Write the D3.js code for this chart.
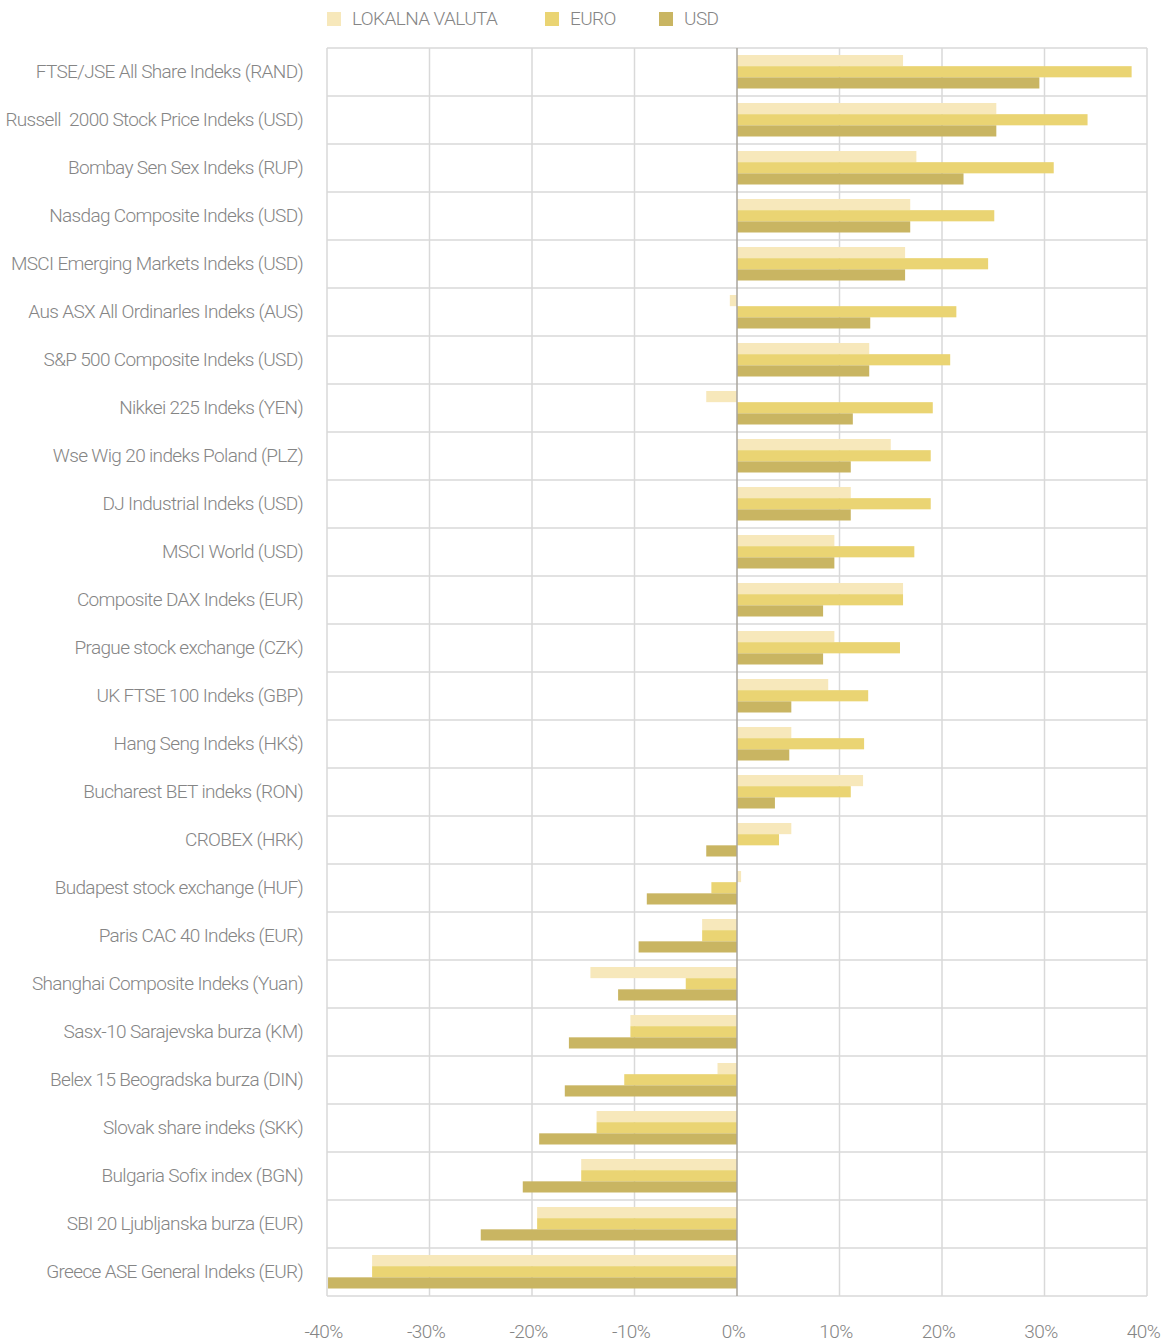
<!DOCTYPE html>
<meta charset="utf-8">
<script src="https://d3js.org/d3.v7.min.js"></script>
<style>
  body { margin: 0; background: #fff; }
  text { font-family: Roboto, "DejaVu Sans", sans-serif; font-weight: 300; fill: #858585; white-space: pre; }
</style>
<div id="chart"></div>
<script>

// categories, top to bottom
const categories = [
  "FTSE/JSE All Share Indeks (RAND)",
  "Russell  2000 Stock Price Indeks (USD)",
  "Bombay Sen Sex Indeks (RUP)",
  "Nasdag Composite Indeks (USD)",
  "MSCI Emerging Markets Indeks (USD)",
  "Aus ASX All Ordinarles Indeks (AUS)",
  "S&P 500 Composite Indeks (USD)",
  "Nikkei 225 Indeks (YEN)",
  "Wse Wig 20 indeks Poland (PLZ)",
  "DJ Industrial Indeks (USD)",
  "MSCI World (USD)",
  "Composite DAX Indeks (EUR)",
  "Prague stock exchange (CZK)",
  "UK FTSE 100 Indeks (GBP)",
  "Hang Seng Indeks (HK$)",
  "Bucharest BET indeks (RON)",
  "CROBEX (HRK)",
  "Budapest stock exchange (HUF)",
  "Paris CAC 40 Indeks (EUR)",
  "Shanghai Composite Indeks (Yuan)",
  "Sasx-10 Sarajevska burza (KM)",
  "Belex 15 Beogradska burza (DIN)",
  "Slovak share indeks (SKK)",
  "Bulgaria Sofix index (BGN)",
  "SBI 20 Ljubljanska burza (EUR)",
  "Greece ASE General Indeks (EUR)"
];

// returns in %
const lokalna = [16.2, 25.3, 17.5, 16.9, 16.4, -0.7, 12.9, -3.0, 15.0, 11.1, 9.5, 16.2, 9.5, 8.9, 5.3, 12.3,
                 5.3, 0.4, -3.4, -14.3, -10.4, -1.9, -13.7, -15.2, -19.5, -35.6];
const euro    = [38.5, 34.2, 30.9, 25.1, 24.5, 21.4, 20.8, 19.1, 18.9, 18.9, 17.3, 16.2, 15.9, 12.8, 12.4, 11.1,
                 4.1, -2.5, -3.4, -5.0, -10.4, -11.0, -13.7, -15.2, -19.5, -35.6];
const usd     = [29.5, 25.3, 22.1, 16.9, 16.4, 13.0, 12.9, 11.3, 11.1, 11.1, 9.5, 8.4, 8.4, 5.3, 5.1, 3.7,
                 -3.0, -8.8, -9.6, -11.6, -16.4, -16.8, -19.3, -20.9, -25.0, -39.9];

const seriesNames = ["LOKALNA VALUTA", "EURO", "USD"];
const seriesColors = ["#f7e8bb", "#ead473", "#c9b562"];
const tickValues = [-40, -30, -20, -10, 0, 10, 20, 30, 40];

const W = 1164, H = 1344;
const plot = {left: 327, right: 1147, top: 48, bottom: 1296};

const svg = d3.select("#chart").append("svg")
    .attr("width", W)
    .attr("height", H);

const x = d3.scaleLinear().domain([-40, 40]).range([plot.left, plot.right]);
const y = d3.scaleBand().domain(categories).range([plot.top, plot.bottom]);
const sub = d3.scaleBand().domain(seriesNames).range([7, 40.5]);

// grid
const grid = svg.append("g").attr("stroke", "#d9d9d9").attr("stroke-width", 1.5);
grid.selectAll("line.v")
  .data(tickValues.filter(d => d !== 0))
  .join("line")
    .attr("x1", d => x(d)).attr("x2", d => x(d))
    .attr("y1", plot.top).attr("y2", plot.bottom);
grid.selectAll("line.h")
  .data(categories.map(c => y(c)).concat([plot.bottom]))
  .join("line")
    .attr("x1", plot.left).attr("x2", plot.right)
    .attr("y1", d => d).attr("y2", d => d);

// bars
const rows = categories.map((c, i) => ({cat: c, vals: [lokalna[i], euro[i], usd[i]]}));
const g = svg.append("g");
g.selectAll("g")
  .data(rows)
  .join("g")
    .attr("transform", d => `translate(0,${y(d.cat)})`)
  .selectAll("rect")
  .data(d => d.vals.map((v, j) => ({v, s: seriesNames[j], c: seriesColors[j]})))
  .join("rect")
    .attr("x", d => x(Math.min(0, d.v)))
    .attr("width", d => Math.abs(x(d.v) - x(0)))
    .attr("y", d => sub(d.s))
    .attr("height", sub.bandwidth())
    .attr("fill", d => d.c);

// zero line
svg.append("line")
    .attr("x1", x(0)).attr("x2", x(0))
    .attr("y1", plot.top).attr("y2", plot.bottom)
    .attr("stroke", "#a8a49c").attr("stroke-width", 1.5);

// category labels
svg.append("g").selectAll("text")
  .data(categories)
  .join("text")
    .attr("x", 303)
    .attr("y", d => y(d) + y.bandwidth() / 2 - 1)
    .attr("dy", "0.35em")
    .attr("text-anchor", "end")
    .style("font-size", "19px")
    .style("letter-spacing", "-0.65px")
    .text(d => d);

// x axis
const xAxis = svg.append("g")
    .attr("transform", `translate(-4,${plot.bottom + 25})`)
    .call(d3.axisBottom(x).tickValues(tickValues).tickSize(0).tickFormat(d => d + "%"));
xAxis.select(".domain").remove();
xAxis.selectAll("text")
    .style("font-size", "19px")
    .style("letter-spacing", "-0.6px")
    .attr("fill", null);

// legend
const legendX = [327, 545, 659];
const legend = svg.append("g").selectAll("g")
  .data(seriesNames)
  .join("g")
    .attr("transform", (d, i) => `translate(${legendX[i]},12)`);
legend.append("rect")
    .attr("width", 14).attr("height", 14)
    .attr("fill", (d, i) => seriesColors[i]);
legend.append("text")
    .attr("x", 25).attr("y", 6)
    .attr("dy", "0.35em")
    .style("font-size", "19px")
    .style("letter-spacing", "-0.6px")
    .text(d => d);

</script>
